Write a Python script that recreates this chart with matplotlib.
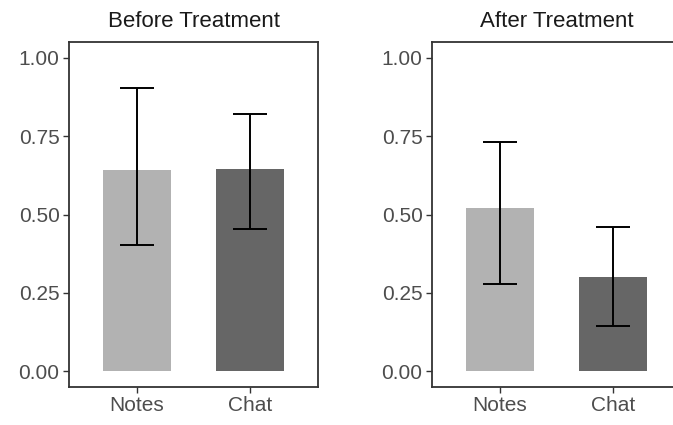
import matplotlib
matplotlib.use("Agg")
import matplotlib.pyplot as plt
import numpy as np

plt.rcParams['font.family'] = ['Liberation Sans', 'DejaVu Sans']

categories = ["Notes", "Chat"]
panels = ["Before Treatment", "After Treatment"]
means = {"Before Treatment": [0.641, 0.646], "After Treatment": [0.520, 0.302]}
lower = {"Before Treatment": [0.403, 0.454], "After Treatment": [0.277, 0.146]}
upper = {"Before Treatment": [0.902, 0.822], "After Treatment": [0.730, 0.460]}
yticks = [0.0, 0.25, 0.5, 0.75, 1.0]
yticklabels = ["0.00", "0.25", "0.50", "0.75", "1.00"]
colors = ["#B2B2B2", "#666666"]

W, H = 673, 425
dpi = 100
fig = plt.figure(figsize=(W / dpi, H / dpi), dpi=dpi)

lefts = [69, 432]
aw = 249
top, bottom = 42, 387
for i, p in enumerate(panels):
    ax = fig.add_axes([lefts[i] / W, 1 - bottom / H, aw / W, (bottom - top) / H])
    x = np.arange(1, len(categories) + 1)
    ax.bar(x, means[p], width=0.6, color=colors, edgecolor="none", zorder=2)
    ax.vlines(x, lower[p], upper[p], color="black", lw=1.4, zorder=3)
    ax.hlines(lower[p], x - 0.15, x + 0.15, color="black", lw=1.4, zorder=3)
    ax.hlines(upper[p], x - 0.15, x + 0.15, color="black", lw=1.4, zorder=3)
    ax.set_xlim(0.4, 2.6)
    ax.set_ylim(-0.05, 1.05)
    ax.set_xticks(x)
    ax.set_xticklabels(categories)
    ax.set_yticks(yticks)
    ax.set_yticklabels(yticklabels)
    ax.tick_params(axis="both", length=4.3, width=1, color="#333333",
                   labelsize=15, labelcolor="#4D4D4D", pad=2.5)
    for s in ax.spines.values():
        s.set_color("#333333")
        s.set_linewidth(1.3)
    ax.set_title(p, fontsize=16, color="#1A1A1A", pad=11)

fig.savefig("out.png", dpi=dpi)
